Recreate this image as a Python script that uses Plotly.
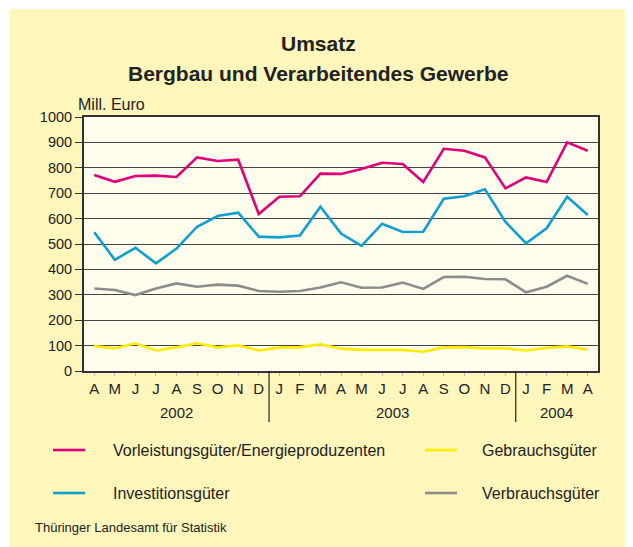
import plotly.graph_objects as go

months = ["A", "M", "J", "J", "A", "S", "O", "N", "D",
          "J", "F", "M", "A", "M", "J", "J", "A", "S", "O", "N", "D",
          "J", "F", "M", "A"]
years = ["2002", "2003", "2004"]
year_centers = [4, 14.5, 22.5]
year_breaks = [8.5, 20.5]

vorleistung = [772, 745, 768, 769, 764, 841, 827, 832, 618, 686, 688, 777, 776,
               795, 820, 815, 744, 875, 867, 841, 719, 762, 744, 900, 867]
investition = [546, 438, 485, 424, 482, 568, 610, 623, 529, 526, 533, 647, 541,
               493, 580, 547, 548, 678, 688, 715, 587, 503, 562, 686, 614]
verbrauch = [325, 319, 299, 325, 345, 332, 340, 336, 315, 312, 315, 329, 349,
             328, 329, 348, 323, 370, 371, 362, 361, 310, 332, 375, 343]
gebrauch = [98, 89, 109, 81, 93, 109, 93, 101, 81, 92, 94, 105, 88,
            83, 83, 83, 76, 93, 94, 89, 89, 81, 91, 97, 84]

series = [
    ("Vorleistungsgüter/Energieproduzenten", vorleistung, "#E2007A"),
    ("Investitionsgüter", investition, "#0FA0D2"),
    ("Gebrauchsgüter", gebrauch, "#FFEB00"),
    ("Verbrauchsgüter", verbrauch, "#8C8C8C"),
]

# page offset of the plotly div (body margin)
OFF = 8
PAGE_W, PAGE_H = 633, 547
W, H = PAGE_W - OFF, PAGE_H - OFF
# plot area in page coordinates
PX0, PX1, PY0, PY1 = 84, 598, 117, 371
L, R, T, B = PX0 - OFF, PAGE_W - PX1, PY0 - OFF, PAGE_H - PY1
PW, PH = PX1 - PX0, PY1 - PY0

def px(x):
    return (x - PX0) / PW

def py(y):
    return (PY1 - y) / PH

FONT = "Liberation Sans, Arial, Helvetica, sans-serif"
TXT = "#222222"
YELLOW = "#FEF6BB"

fig = go.Figure()
xs = list(range(len(months)))
for name, vals, col in [series[3], series[2], series[1], series[0]]:
    fig.add_trace(go.Scatter(x=xs, y=vals, mode="lines", name=name,
                             line=dict(color=col, width=2.6), showlegend=False,
                             hoverinfo="skip"))

shapes = []
# white margin strips
shapes.append(dict(type="rect", xref="paper", yref="paper", x0=px(OFF), x1=px(10), y0=py(PAGE_H), y1=py(OFF),
                   fillcolor="white", line=dict(width=0), layer="below"))
shapes.append(dict(type="rect", xref="paper", yref="paper", x0=px(OFF), x1=px(PAGE_W), y0=py(9), y1=py(OFF),
                   fillcolor="white", line=dict(width=0), layer="below"))
# year separators
for xb in year_breaks:
    shapes.append(dict(type="line", xref="x", yref="paper", x0=xb, x1=xb, y0=0, y1=py(422),
                       line=dict(color="#222222", width=1.2)))

annotations = [
    dict(text="<b>Umsatz</b>", x=px(318), y=py(43), xref="paper", yref="paper",
         showarrow=False, font=dict(size=21, color=TXT, family=FONT), xanchor="center", yanchor="middle"),
    dict(text="<b>Bergbau und Verarbeitendes Gewerbe</b>", x=px(318), y=py(73), xref="paper", yref="paper",
         showarrow=False, font=dict(size=21, color=TXT, family=FONT), xanchor="center", yanchor="middle"),
    dict(text="Mill. Euro", x=px(76), y=py(104), xref="paper", yref="paper",
         showarrow=False, font=dict(size=16, color=TXT, family=FONT), xanchor="left", yanchor="middle"),
    dict(text="Thüringer Landesamt für Statistik", x=px(33), y=py(527), xref="paper", yref="paper",
         showarrow=False, font=dict(size=13, color=TXT, family=FONT), xanchor="left", yanchor="middle"),
]
for yr, xc in zip(years, year_centers):
    annotations.append(dict(text=yr, x=xc, y=py(412), xref="x", yref="paper", showarrow=False,
                            font=dict(size=15, color=TXT, family=FONT), xanchor="center", yanchor="middle"))

legend_pos = [(53, 111, 450), (53, 111, 493), (425, 480, 450), (425, 480, 493)]
for (name, vals, col), (lx, tx, ly) in zip(series, legend_pos):
    shapes.append(dict(type="line", xref="paper", yref="paper", x0=px(lx), x1=px(lx + 32),
                       y0=py(ly), y1=py(ly), line=dict(color=col, width=2.6)))
    annotations.append(dict(text=name, x=px(tx), y=py(ly), xref="paper", yref="paper", showarrow=False,
                            font=dict(size=16, color=TXT, family=FONT), xanchor="left", yanchor="middle"))

fig.update_layout(
    width=W, height=H,
    margin=dict(l=L, r=R, t=T, b=B, pad=0),
    paper_bgcolor=YELLOW,
    plot_bgcolor="#FFFDEB",
    font=dict(family=FONT, size=14, color=TXT),
    shapes=shapes,
    annotations=annotations,
    xaxis=dict(range=[-0.5, len(months) - 0.5], tickmode="array", tickvals=xs, ticktext=months,
               showgrid=False, zeroline=False, showline=True, mirror=True, linecolor="#333333",
               linewidth=2, ticks="outside", ticklen=3, tickcolor="#BBBBBB", tickwidth=1,
               tickfont=dict(size=15, color=TXT), fixedrange=True),
    yaxis=dict(range=[0, 1000], dtick=100, showgrid=True, gridcolor="#444444", gridwidth=1,
               zeroline=False, showline=True, mirror=True, linecolor="#333333", linewidth=2,
               ticks="outside", ticklen=7, tickcolor="#333333", tickwidth=1.2,
               tickfont=dict(size=14.5, color=TXT), fixedrange=True),
)

fig.write_html("out.html")
